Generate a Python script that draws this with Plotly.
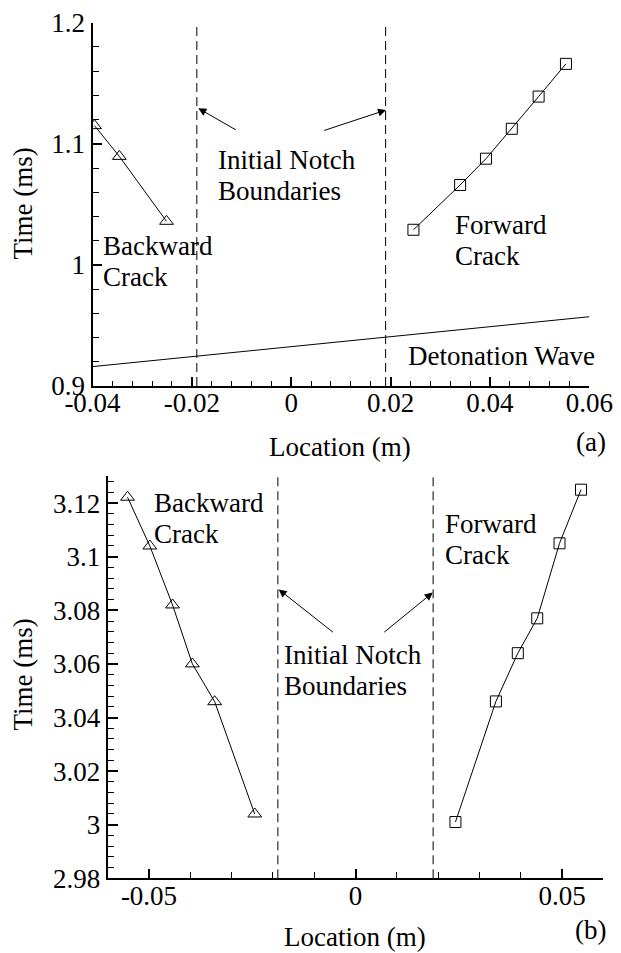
import plotly.graph_objects as go

# ---------------- data ----------------
# (a) top panel
a_back_x = [-0.0396, -0.0346, -0.0251]
a_back_t = [1.115, 1.0896, 1.036]
a_fwd_x = [0.0246, 0.0340, 0.0392, 0.0444, 0.0498, 0.0553]
a_fwd_t = [1.029, 1.066, 1.0877, 1.1124, 1.139, 1.166]
a_det_x = [-0.04, 0.06]
a_det_t = [0.916, 0.9572]
a_notch = [-0.019, 0.019]

# (b) bottom panel
b_back_x = [-0.0552, -0.0498, -0.0443, -0.0395, -0.0341, -0.0244]
b_back_t = [3.1222, 3.104, 3.082, 3.060, 3.0459, 3.004]
b_fwd_x = [0.0242, 0.0340, 0.0393, 0.0440, 0.0494, 0.0546]
b_fwd_t = [3.001, 3.046, 3.064, 3.077, 3.105, 3.125]
b_notch = [-0.0188, 0.0188]

# tick labels
a_xticks = [-0.04, -0.02, 0, 0.02, 0.04, 0.06]
a_xtext = ["-0.04", "-0.02", "0", "0.02", "0.04", "0.06"]
a_yticks = [0.9, 1.0, 1.1, 1.2]
a_ytext = ["0.9", "1", "1.1", "1.2"]
b_xticks = [-0.05, 0, 0.05]
b_xtext = ["-0.05", "0", "0.05"]
b_yticks = [2.98, 3.0, 3.02, 3.04, 3.06, 3.08, 3.1, 3.12]
b_ytext = ["2.98", "3", "3.02", "3.04", "3.06", "3.08", "3.1", "3.12"]

FONT = "Liberation Serif"
TICKFONT = 27
TEXTFONT = 27

fig = go.Figure()

line = dict(color="black", width=1)

# top panel traces
fig.add_trace(go.Scatter(x=a_back_x, y=a_back_t, mode="lines+markers", line=line,
                         marker=dict(symbol="triangle-up-open", size=12, color="black", line=dict(width=1)),
                         xaxis="x", yaxis="y", showlegend=False))
fig.add_trace(go.Scatter(x=a_fwd_x, y=a_fwd_t, mode="lines+markers", line=line,
                         marker=dict(symbol="square-open", size=11, color="black", line=dict(width=1)),
                         xaxis="x", yaxis="y", showlegend=False))
fig.add_trace(go.Scatter(x=a_det_x, y=a_det_t, mode="lines", line=line,
                         xaxis="x", yaxis="y", showlegend=False))
for xv in a_notch:
    fig.add_trace(go.Scatter(x=[xv, xv], y=[0.9, 1.2], mode="lines",
                             line=dict(color="black", width=1, dash="9px,5px"),
                             xaxis="x", yaxis="y", showlegend=False))

# bottom panel traces
fig.add_trace(go.Scatter(x=b_back_x, y=b_back_t, mode="lines+markers", line=line,
                         marker=dict(symbol="triangle-up-open", size=12, color="black", line=dict(width=1)),
                         xaxis="x2", yaxis="y2", showlegend=False))
fig.add_trace(go.Scatter(x=b_fwd_x, y=b_fwd_t, mode="lines+markers", line=line,
                         marker=dict(symbol="square-open", size=11, color="black", line=dict(width=1)),
                         xaxis="x2", yaxis="y2", showlegend=False))
for xv in b_notch:
    fig.add_trace(go.Scatter(x=[xv, xv], y=[2.98, 3.13], mode="lines",
                             line=dict(color="black", width=1, dash="9px,5px"),
                             xaxis="x2", yaxis="y2", showlegend=False))

W, H = 621, 953


def ax_common():
    return dict(showgrid=False, zeroline=False, showline=True, linecolor="black", linewidth=2,
                ticks="inside", tickcolor="black", tickwidth=1.5, ticklen=9, automargin=False,
                tickfont=dict(family=FONT, size=TICKFONT, color="black"), tickmode="array")


xa = ax_common()
xa.update(domain=[92.5 / W, 589.3 / W], range=[-0.04, 0.06], tickvals=a_xticks, ticktext=a_xtext,
          anchor="y", ticklabelstandoff=-8,
          minor=dict(ticks="inside", ticklen=5, tickwidth=1, tickcolor="black",
                     dtick=0.004, tick0=0, showgrid=False))
ya = ax_common()
ya.update(domain=[1 - 386 / H, 1 - 22.7 / H], range=[0.9, 1.2], tickvals=a_yticks, ticktext=a_ytext,
          anchor="x", minor=dict(ticks="inside", ticklen=6, tickwidth=1, tickcolor="black",
                                 dtick=0.02, tick0=0, showgrid=False))
xb = ax_common()
xb.update(domain=[107.7 / W, 603.3 / W], range=[-0.06, 0.06], tickvals=b_xticks, ticktext=b_xtext,
          anchor="y2", ticklabelstandoff=-8,
          minor=dict(ticks="inside", ticklen=6, tickwidth=1, tickcolor="black",
                     dtick=0.01, tick0=0, showgrid=False))
yb = ax_common()
yb.update(domain=[1 - 878.3 / H, 1 - 476.3 / H], range=[2.98, 3.13], tickvals=b_yticks, ticktext=b_ytext,
          anchor="x2", ticklen=10, minor=dict(ticks="inside", ticklen=6, tickwidth=1, tickcolor="black",
                                              dtick=0.004, tick0=0, showgrid=False))

annots = []


def txt(x, y, s, xref, yref, xanchor="left"):
    annots.append(dict(x=x, y=y, xref=xref, yref=yref, text=s, showarrow=False,
                       xanchor=xanchor, yanchor="middle", borderpad=0,
                       font=dict(family=FONT, size=TEXTFONT, color="black")))


def arrow(xh, yh, xt, yt, xref, yref):
    annots.append(dict(x=xh, y=yh, ax=xt, ay=yt, xref=xref, yref=yref, axref=xref, ayref=yref,
                       text="", showarrow=True, arrowhead=2, arrowsize=1.6, arrowwidth=1,
                       arrowcolor="black"))


# top panel labels
txt(-0.0381, 1.0152, "Backward", "x", "y")
txt(-0.0381, 0.9896, "Crack", "x", "y")
txt(-0.0149, 1.0863, "Initial Notch", "x", "y")
txt(-0.0149, 1.0607, "Boundaries", "x", "y")
txt(0.0328, 1.0331, "Forward", "x", "y")
txt(0.0328, 1.0074, "Crack", "x", "y")
txt(0.0234, 0.9248, "Detonation Wave", "x", "y")
arrow(-0.0187, 1.1293, -0.01085, 1.1108, "x", "y")
arrow(0.01908, 1.1279, 0.00634, 1.1106, "x", "y")

# bottom panel labels
txt(-0.0491, 3.1201, "Backward", "x2", "y2")
txt(-0.0491, 3.1085, "Crack", "x2", "y2")
txt(-0.0176, 3.0632, "Initial Notch", "x2", "y2")
txt(-0.0176, 3.0516, "Boundaries", "x2", "y2")
txt(0.0215, 3.1123, "Forward", "x2", "y2")
txt(0.0215, 3.1008, "Crack", "x2", "y2")
arrow(-0.0186, 3.0878, -0.0051, 3.0714, "x2", "y2")
arrow(0.0187, 3.0866, 0.0066, 3.0714, "x2", "y2")

# axis titles and panel tags
txt(340 / W, 1 - 446.7 / H, "Location (m)", "paper", "paper", "center")
txt(355 / W, 1 - 936.7 / H, "Location (m)", "paper", "paper", "center")
txt(591 / W, 1 - 441.7 / H, "(a)", "paper", "paper", "center")
txt(590 / W, 1 - 930 / H, "(b)", "paper", "paper", "center")
for yy in (1 - 204 / H, 1 - 675 / H):
    annots.append(dict(x=22.5 / W, y=yy, xref="paper", yref="paper", text="Time (ms)",
                       showarrow=False, textangle=-90, xanchor="center", yanchor="middle",
                       font=dict(family=FONT, size=TEXTFONT, color="black")))

fig.update_layout(width=W, height=H, margin=dict(l=0, r=0, t=0, b=0, autoexpand=False),
                  paper_bgcolor="white", plot_bgcolor="white",
                  xaxis=xa, yaxis=ya, xaxis2=xb, yaxis2=yb,
                  annotations=annots, showlegend=False)

fig.write_html("out.html")
